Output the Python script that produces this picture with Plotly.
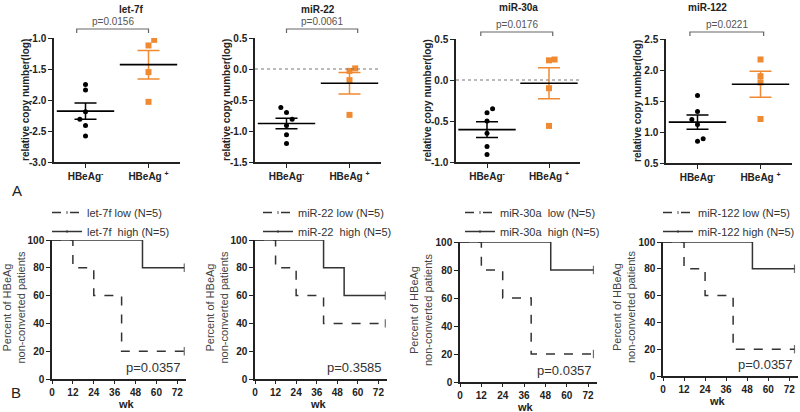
import plotly.graph_objects as go

# ---------------- data ----------------
groups = ["HBeAg<sup>-</sup>", "HBeAg <sup>+</sup>"]
mirnas = ["let-7f", "miR-22", "miR-30a", "miR-122"]
pvals_a = ["p=0.0156", "p=0.0061", "p=0.0176", "p=0.0221"]

let7f_neg = [-1.75, -1.84, -2.19, -2.31, -2.41, -2.58]
let7f_pos = [-1.03, -1.12, -1.55, -2.03]
mir22_neg = [-0.62, -0.70, -0.81, -0.91, -1.06, -1.20]
mir22_pos = [0.01, -0.03, -0.18, -0.74]
mir30a_neg = [-0.35, -0.40, -0.50, -0.65, -0.81, -0.91]
mir30a_pos = [0.25, 0.24, -0.10, -0.56]
mir122_neg = [1.59, 1.33, 1.20, 1.12, 0.89, 0.85]
mir122_pos = [2.17, 1.90, 1.80, 1.21]

means_neg = [-2.18, -0.88, -0.605, 1.16]
sems_neg = [0.13, 0.085, 0.095, 0.115]
means_pos = [-1.43, -0.23, -0.04, 1.77]
sems_pos = [0.23, 0.175, 0.19, 0.21]

# y tick values of the scatter panels
yticks_let7f = [-3.0, -2.5, -2.0, -1.5, -1.0]
yticks_mir22 = [-1.5, -1.0, -0.5, 0.0, 0.5]
yticks_mir30a = [-1.0, -0.5, 0.0, 0.5]
yticks_mir122 = [0.5, 1.0, 1.5, 2.0, 2.5]

# horizontal jitter of the dots (category units)
jit_let7f_neg = [0, 0, 0, -0.09, 0, 0]
jit_let7f_pos = [0.09, 0, 0, 0]
jit_mir22_neg = [-0.09, 0, 0.09, 0, 0, 0]
jit_mir22_pos = [0.09, 0, 0, 0]
jit_mir30a_neg = [0.09, 0, 0, 0, 0, 0]
jit_mir30a_pos = [0.09, 0, 0, 0]
jit_mir122_neg = [0, 0, -0.09, 0, 0.09, 0]
jit_mir122_pos = [0, 0, 0, 0]

# Kaplan-Meier step data (weeks, percent non-converted)
let7f_low_wk = [0, 12, 24, 40, 76]
let7f_low_pct = [100, 80, 60, 20, 20]
let7f_high_wk = [0, 52, 76]
let7f_high_pct = [100, 80, 80]
mir22_low_wk = [0, 12, 24, 40, 76]
mir22_low_pct = [100, 80, 60, 40, 40]
mir22_high_wk = [0, 40, 52, 76]
mir22_high_pct = [100, 80, 60, 60]
mir30a_low_wk = [0, 12, 24, 40, 75]
mir30a_low_pct = [100, 80, 60, 20, 20]
mir30a_high_wk = [0, 51, 75]
mir30a_high_pct = [100, 80, 80]
mir122_low_wk = [0, 12, 24, 40, 75]
mir122_low_pct = [100, 80, 60, 20, 20]
mir122_high_wk = [0, 51, 75]
mir122_high_pct = [100, 80, 80]

low_names = ["let-7f low (N=5)", "miR-22 low (N=5)", "miR-30a  low (N=5)", "miR-122 low (N=5)"]
high_names = ["let-7f  high (N=5)", "miR-22  high (N=5)", "miR-30a  high (N=5)", "miR-122 high (N=5)"]
pvals_b = ["p=0.0357", "p=0.3585", "p=0.0357", "p=0.0357"]
wk_ticks = [0, 12, 24, 36, 48, 60, 72]
pct_ticks = [0, 20, 40, 60, 80, 100]

# ---------------- layout helpers ----------------
W, H = 800, 412
FONT = "Liberation Sans, Arial, sans-serif"
ORANGE = "#F08A32"
DARK = "#222222"


def PX(x):
    return x / W


def PY(y):
    return 1 - y / H


neg_vals = [let7f_neg, mir22_neg, mir30a_neg, mir122_neg]
pos_vals = [let7f_pos, mir22_pos, mir30a_pos, mir122_pos]
neg_jit = [jit_let7f_neg, jit_mir22_neg, jit_mir30a_neg, jit_mir122_neg]
pos_jit = [jit_let7f_pos, jit_mir22_pos, jit_mir30a_pos, jit_mir122_pos]
yticks_a = [yticks_let7f, yticks_mir22, yticks_mir30a, yticks_mir122]

# pixel placement for the scatter panels (row A)
a_xd = [(54, 180), (255, 381), (456, 580), (666, 792)]
a_yd = [(38, 162), (38, 162), (39, 162), (39, 163)]
a_brk = [(-0.14, 1.0, 29), (0.0, 1.13, 29), (-0.1, 1.06, 32), (-0.12, 1.05, 32)]
a_title_y = [10, 10, 8, 8]
zero_line = [False, True, True, False]

# pixel placement for the survival panels (row B)
b_xd = [(52, 186), (255, 387), (460, 597), (663, 798)]
b_yd = [(240, 379), (240, 379), (242, 382), (242, 376)]
b_leg_x = [47, 258, 460, 658]

low_wk = [let7f_low_wk, mir22_low_wk, mir30a_low_wk, mir122_low_wk]
low_pct = [let7f_low_pct, mir22_low_pct, mir30a_low_pct, mir122_low_pct]
high_wk = [let7f_high_wk, mir22_high_wk, mir30a_high_wk, mir122_high_wk]
high_pct = [let7f_high_pct, mir22_high_pct, mir30a_high_pct, mir122_high_pct]

fig = go.Figure()
layout = dict(
    width=W, height=H, margin=dict(l=0, r=0, t=0, b=0, autoexpand=False),
    paper_bgcolor="white", plot_bgcolor="white",
    font=dict(family=FONT, size=10, color=DARK),
    showlegend=True,
)
annotations = []
shapes = []

axis_common = dict(showgrid=False, zeroline=False, showline=True, linecolor=DARK,
                   linewidth=1.5, ticks="outside", ticklen=4, tickwidth=1.3,
                   tickcolor=DARK, fixedrange=True, automargin=False)
tick_font = dict(size=10, family=FONT, weight="bold", color=DARK)

for i in range(4):
    xa = f"xaxis{i + 1}" if i else "xaxis"
    ya = f"yaxis{i + 1}" if i else "yaxis"
    xr = f"x{i + 1}" if i else "x"
    yr = f"y{i + 1}" if i else "y"
    layout[xa] = dict(axis_common, domain=[PX(a_xd[i][0]), PX(a_xd[i][1])],
                      range=[-0.5, 1.5], anchor=yr, tickvals=[0, 1], ticktext=groups,
                      tickfont=tick_font)
    layout[ya] = dict(axis_common, domain=[PY(a_yd[i][1]), PY(a_yd[i][0])],
                      range=[yticks_a[i][0], yticks_a[i][-1]], anchor=xr,
                      tickvals=yticks_a[i], ticktext=[f"{v:.1f}" for v in yticks_a[i]],
                      tickfont=tick_font)
    # dots
    fig.add_trace(go.Scatter(
        x=[0 + j for j in neg_jit[i]], y=neg_vals[i], xaxis=xr, yaxis=yr,
        mode="markers", marker=dict(color="black", size=5), showlegend=False))
    fig.add_trace(go.Scatter(
        x=[1 + j for j in pos_jit[i]], y=pos_vals[i], xaxis=xr, yaxis=yr,
        mode="markers", marker=dict(color=ORANGE, size=6, symbol="square"),
        showlegend=False))
    # SEM error bars
    fig.add_trace(go.Scatter(
        x=[0], y=[means_neg[i]], xaxis=xr, yaxis=yr, mode="markers",
        marker=dict(size=1, color="rgba(0,0,0,0)"),
        error_y=dict(type="data", array=[sems_neg[i]], color="black", thickness=1.5, width=11),
        showlegend=False))
    fig.add_trace(go.Scatter(
        x=[1], y=[means_pos[i]], xaxis=xr, yaxis=yr, mode="markers",
        marker=dict(size=1, color="rgba(0,0,0,0)"),
        error_y=dict(type="data", array=[sems_pos[i]], color=ORANGE, thickness=1.5, width=11),
        showlegend=False))
    # mean lines
    fig.add_trace(go.Scatter(
        x=[0, 1], y=[means_neg[i], means_pos[i]], xaxis=xr, yaxis=yr, mode="markers",
        marker=dict(symbol="line-ew", size=41, line=dict(width=1.6, color="black")),
        showlegend=False))
    # dotted zero line
    if zero_line[i]:
        shapes.append(dict(type="line", xref=f"{xr} domain", yref=yr, x0=0, x1=1,
                           y0=0, y1=0, line=dict(color="#777777", width=1, dash="dot")))
    # significance bracket
    bx0, bx1, by = a_brk[i]
    shapes.append(dict(type="path", xref=xr, yref="paper",
                       path=f"M {bx0},{PY(by + 4)} L {bx0},{PY(by)} L {bx1},{PY(by)} L {bx1},{PY(by + 4)}",
                       line=dict(color="#666666", width=1.2)))
    annotations.append(dict(text=pvals_a[i], xref=xr, yref="paper", x=(bx0 + bx1) / 2,
                            y=PY(by - 7), showarrow=False, yanchor="middle",
                            font=dict(size=10, color="#555555", family=FONT)))
    # panel title
    annotations.append(dict(text=f"<b>{mirnas[i]}</b>", xref="paper", yref="paper",
                            x=PX((a_xd[i][0] + a_xd[i][1]) / 2), y=PY(a_title_y[i]),
                            showarrow=False, yanchor="middle",
                            font=dict(size=10, color=DARK, family=FONT)))
    # y title
    annotations.append(dict(text="<b>relative copy number(log)</b>", xref="paper", yref="paper",
                            x=PX(a_xd[i][0] - 29), y=PY((a_yd[i][0] + a_yd[i][1]) / 2),
                            textangle=-90, showarrow=False, xanchor="center", yanchor="middle",
                            font=dict(size=10, color=DARK, family=FONT)))

for i in range(4):
    k = i + 5
    xa, ya, xr, yr = f"xaxis{k}", f"yaxis{k}", f"x{k}", f"y{k}"
    lg = "legend" if i == 0 else f"legend{i + 1}"
    layout[xa] = dict(axis_common, domain=[PX(b_xd[i][0]), PX(b_xd[i][1])],
                      range=[0, 77], anchor=yr, tickvals=wk_ticks, ticklen=3,
                      tickfont=tick_font)
    layout[ya] = dict(axis_common, domain=[PY(b_yd[i][1]), PY(b_yd[i][0])],
                      range=[0, 100], anchor=xr, tickvals=pct_ticks,
                      tickfont=tick_font)
    nlow = len(low_wk[i])
    nhigh = len(high_wk[i])
    fig.add_trace(go.Scatter(
        x=low_wk[i], y=low_pct[i], xaxis=xr, yaxis=yr, mode="lines+markers",
        line=dict(shape="hv", color="#333333", width=1.5, dash="dash"),
        marker=dict(symbol="line-ns", size=[0] * (nlow - 1) + [6],
                    line=dict(width=1.2, color="#333333")),
        name=low_names[i], legend=lg))
    fig.add_trace(go.Scatter(
        x=high_wk[i], y=high_pct[i], xaxis=xr, yaxis=yr, mode="lines+markers",
        line=dict(shape="hv", color="#333333", width=1.5),
        marker=dict(symbol="line-ns", size=[0] * (nhigh - 1) + [6],
                    line=dict(width=1.2, color="#333333")),
        name=high_names[i], legend=lg))
    layout[lg] = dict(x=PX(b_leg_x[i]), y=PY(198), xanchor="left", yanchor="top",
                      bgcolor="rgba(0,0,0,0)", font=dict(size=11, family=FONT, color="#333333"),
                      itemwidth=30, tracegroupgap=0, orientation="v")
    annotations.append(dict(text=pvals_b[i], xref="paper", yref="paper",
                            x=PX(b_xd[i][1] - 3), y=PY(b_yd[i][1] - 12),
                            xanchor="right", yanchor="middle", showarrow=False,
                            font=dict(size=13, color="#333333", family=FONT)))
    annotations.append(dict(text="<b>wk</b>", xref="paper", yref="paper",
                            x=PX((b_xd[i][0] + b_xd[i][1]) / 2 - 3), y=PY(b_yd[i][1] + 25),
                            showarrow=False, yanchor="middle",
                            font=dict(size=11, color=DARK, family=FONT)))
    annotations.append(dict(text="Percent of HBeAg<br>non-converted patients", xref="paper",
                            yref="paper", x=PX(b_xd[i][0] - 39),
                            y=PY((b_yd[i][0] + b_yd[i][1]) / 2 - 2),
                            textangle=-90, showarrow=False, xanchor="center", yanchor="middle",
                            font=dict(size=11, color="#444444", family=FONT)))

annotations.append(dict(text="A", xref="paper", yref="paper", x=PX(10), y=PY(190),
                        showarrow=False, font=dict(size=15, color=DARK, family=FONT)))
annotations.append(dict(text="B", xref="paper", yref="paper", x=PX(9), y=PY(403),
                        showarrow=False, font=dict(size=15, color=DARK, family=FONT)))

layout["annotations"] = annotations
layout["shapes"] = shapes
fig.update_layout(**layout)
fig.write_html("out.html", post_script="document.body.style.margin='0';",
               config={"displayModeBar": False})
